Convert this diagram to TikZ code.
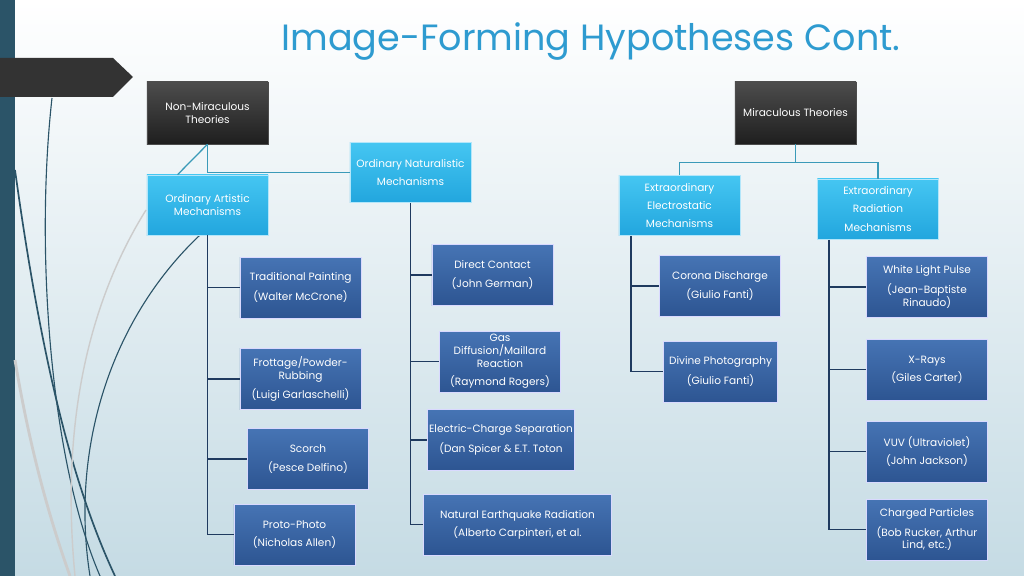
\documentclass[tikz,border=0pt]{standalone}
\usepackage{fontspec}
\setmainfont{Poppins}
\usetikzlibrary{calc}
\definecolor{barblue}{HTML}{2B5468}
\definecolor{titleblue}{HTML}{2E9BD0}
\definecolor{linknavy}{HTML}{1F3A5F}
\definecolor{linkteal}{HTML}{3A9AB8}
\definecolor{leaftop}{HTML}{4674B4}
\definecolor{leafbot}{HTML}{2D5592}
\definecolor{midtop}{HTML}{45C6F2}
\definecolor{midbot}{HTML}{22A6DE}
\definecolor{bgbot}{HTML}{C5DBE4}
\tikzset{
  base/.style={rectangle, align=center, text=white, font=\fontsize{7.5}{9}\selectfont, inner sep=1pt},
  darkbox/.style={base, draw=gray!60!black, top color=black!70, bottom color=black!88, minimum width=3.03cm, minimum height=1.55cm},
  midbox/.style={base, draw=cyan!30, top color=midtop, bottom color=midbot, minimum width=3.03cm, minimum height=1.5cm},
  leafbox/.style={base, draw=blue!15!white, top color=leaftop, bottom color=leafbot, minimum width=3.03cm, minimum height=1.52cm},
  navy/.style={draw=linknavy, line width=0.9pt},
  teal/.style={draw=linkteal, line width=0.9pt}
}
\begin{document}
\begin{tikzpicture}[x=0.025cm, y=-0.025cm]
\useasboundingbox (0,0) rectangle (1024,576);
\shade[top color=white, bottom color=bgbot] (0,0) rectangle (1024,576);
\fill[barblue] (0,0) rectangle (15,576);
\fill[black!80] (0,58) -- (113,58) -- (133,77) -- (113,97) -- (0,97) -- cycle;

% decorative curves
\draw[barblue, line width=1.2pt] (15,170) .. controls (40,350) and (70,480) .. (115,576);
\draw[barblue, line width=0.8pt] (52,98) .. controls (35,250) and (50,460) .. (100,576);
\draw[barblue, line width=0.8pt] (200,235) .. controls (110,320) and (70,450) .. (90,576);
\draw[gray!40, line width=1pt] (146,210) .. controls (90,300) and (60,420) .. (75,576);
\draw[gray!40, line width=2pt] (15,360) .. controls (30,450) and (50,520) .. (70,576);

\node (title) at (591,42) {\fontsize{26}{31}\selectfont\color{titleblue}Image-Forming Hypotheses Cont.};

% top level
\node[darkbox] (nonmir) at (207.5,113) {Non-Miraculous\\Theories};
\node[darkbox] (mir) at (795.5,113) {Miraculous Theories};

\node[midbox] (natural) at (410.5,172.5) {Ordinary Naturalistic\\[4pt]Mechanisms};
\node[midbox] (artistic) at (207.5,205) {Ordinary Artistic\\Mechanisms};
\node[midbox] (electro) at (679.5,205.5) {Extraordinary\\[4pt]Electrostatic\\[4pt]Mechanisms};
\node[midbox] (radiation) at (878,209) {Extraordinary\\[4pt]Radiation\\[4pt]Mechanisms};

\draw[teal] (nonmir.south) |- (natural.west);
\draw[teal] (nonmir.south) -- ($(artistic.north)+(-30,0)$);
\draw[teal] (mir.south) -- ++(0,18) -| (electro.north);
\draw[teal] (mir.south) -- ++(0,18) -| (radiation.north);

% artistic leaves
\node[leafbox] (paint) at (300.5,287.5) {Traditional Painting\\[4pt](Walter McCrone)};
\node[leafbox] (frottage) at (300.5,379) {Frottage/Powder-\\Rubbing\\[4pt](Luigi Garlaschelli)};
\node[leafbox] (scorch) at (308,459) {Scorch\\[4pt](Pesce Delfino)};
\node[leafbox] (proto) at (294.5,534.5) {Proto-Photo\\[4pt](Nicholas Allen)};
\draw[navy] (artistic.south) |- (proto.west);
\foreach \leaf in {paint, frottage, scorch}
  \draw[navy] (artistic.south |- \leaf.west) -- (\leaf.west);

% naturalistic leaves
\node[leafbox] (contact) at (492.5,275) {Direct Contact\\[4pt](John German)};
\node[leafbox] (gas) at (500,361.5) {Gas\\Diffusion/Maillard\\Reaction\\[4pt](Raymond Rogers)};
\node[leafbox, minimum width=3.65cm] (charge) at (501,440) {Electric-Charge Separation\\[4pt](Dan Spicer \& E.T. Toton};
\node[leafbox, minimum width=4.7cm] (quake) at (517.5,524.5) {Natural Earthquake Radiation\\[4pt](Alberto Carpinteri, et al.};
\draw[navy] (natural.south) |- (quake.west);
\foreach \leaf in {contact, gas, charge}
  \draw[navy] (natural.south |- \leaf.west) -- (\leaf.west);

% electrostatic leaves
\coordinate (etrunk) at (631,236);
\node[leafbox] (corona) at (720,286) {Corona Discharge\\[4pt](Giulio Fanti)};
\node[leafbox, minimum width=2.85cm] (divine) at (720.5,371.5) {Divine Photography\\[4pt](Giulio Fanti)};
\draw[navy] (etrunk) |- (divine.west);
\draw[navy] (etrunk |- corona.west) -- (corona.west);

% radiation leaves
\coordinate (rtrunk) at (829,240);
\node[leafbox] (pulse) at (927,287) {White Light Pulse\\[4pt](Jean-Baptiste\\Rinaudo)};
\node[leafbox] (xray) at (927,369.5) {X-Rays\\[4pt](Giles Carter)};
\node[leafbox] (vuv) at (927,451.5) {VUV (Ultraviolet)\\[4pt](John Jackson)};
\node[leafbox] (particles) at (927,529.5) {Charged Particles\\[4pt](Bob Rucker, Arthur\\Lind, etc.)};
\draw[navy] (rtrunk) |- (particles.west);
\foreach \leaf in {pulse, xray, vuv}
  \draw[navy] (rtrunk |- \leaf.west) -- (\leaf.west);
\end{tikzpicture}
\end{document}
